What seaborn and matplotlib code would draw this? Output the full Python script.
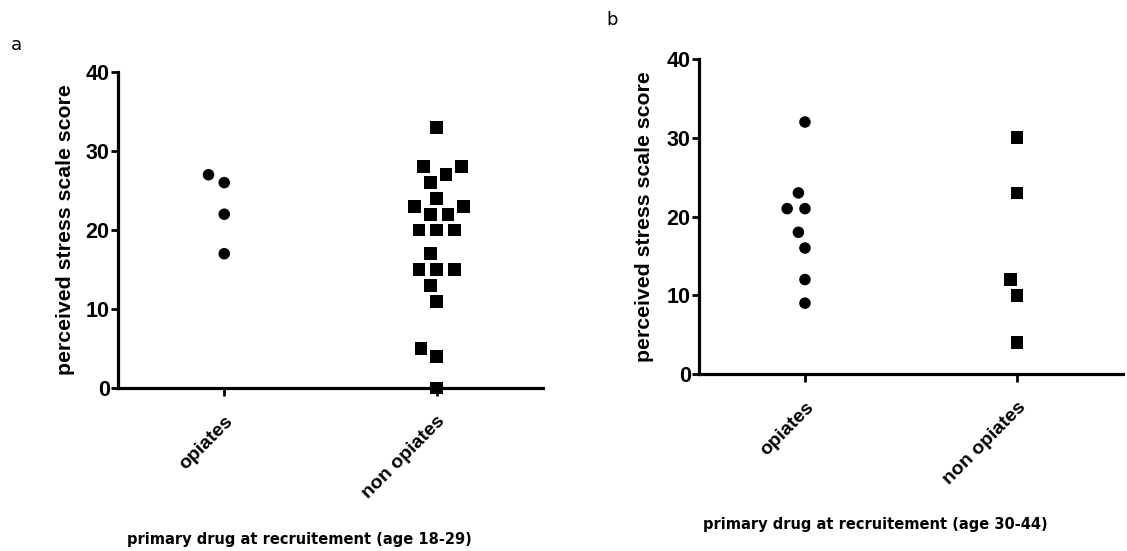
import matplotlib
matplotlib.use("Agg")
import matplotlib.pyplot as plt
import seaborn as sns
import pandas as pd

# Perceived stress scale scores by primary drug at recruitment
categories = ["opiates", "non opiates"]

young_opiates = [26, 27, 22, 17]
young_non_opiates = [33, 28, 28, 27, 26, 24, 23, 23, 22, 22, 20, 20, 20,
                     17, 15, 15, 15, 13, 11, 5, 4, 0]

older_opiates = [32, 23, 21, 21, 18, 16, 12, 9]
older_non_opiates = [30, 23, 12, 10, 4]

y_ticks = [0, 10, 20, 30, 40]
y_label = "perceived stress scale score"
x_labels = ["primary drug at recruitement (age 18-29)",
            "primary drug at recruitement (age 30-44)"]
panel_letters = ["a", "b"]


def long_frame(opi, non):
    return pd.DataFrame({
        "group": [categories[0]] * len(opi) + [categories[1]] * len(non),
        "score": list(opi) + list(non),
    })


sns.set_theme(style="white")
plt.rcParams["font.family"] = ["Liberation Sans", "DejaVu Sans"]
plt.rcParams["text.color"] = "black"
plt.rcParams["axes.labelcolor"] = "black"
plt.rcParams["xtick.color"] = "black"
plt.rcParams["ytick.color"] = "black"

fig = plt.figure(figsize=(11.27, 5.51), dpi=100)
ax_a = fig.add_axes([0.1047, 0.2958, 0.3771, 0.5735])
ax_b = fig.add_axes([0.6202, 0.3212, 0.3762, 0.5717])

panels = [
    (ax_a, long_frame(young_opiates, young_non_opiates), (0.426, -0.456), -0.101),
    (ax_b, long_frame(older_opiates, older_non_opiates), (0.415, -0.454), -0.106),
]

# marker shape, drawn size and an invisible edge that widens the swarm spacing
marker_styles = {"opiates": ("o", 8.3, 3.9), "non opiates": ("s", 9.2, 3.0)}

for i, (ax, df, xl_pos, yl_x) in enumerate(panels):
    for cat in categories:
        marker, size, gap = marker_styles[cat]
        sub = df[df["group"] == cat]
        sns.swarmplot(data=sub, x="group", y="score", order=categories,
                      marker=marker, color="black", size=size,
                      linewidth=gap, edgecolor="none",
                      ax=ax, clip_on=False, zorder=3)
    # drop any empty point collections left by categories without data
    for coll in list(ax.collections):
        if len(coll.get_offsets()) == 0:
            coll.remove()
    ax.set_xlim(-0.5, 1.5)
    ax.set_ylim(0, 40)
    ax.set_yticks(y_ticks)
    ax.set_yticklabels([str(t) for t in y_ticks], fontsize=15.5, fontweight="bold")
    ax.set_xticks([0, 1])
    ax.set_xticklabels(categories, rotation=45, ha="right",
                       rotation_mode="anchor", fontsize=14, fontweight="bold")
    for s in ["top", "right"]:
        ax.spines[s].set_visible(False)
    for s in ["left", "bottom"]:
        ax.spines[s].set_linewidth(2.3)
        ax.spines[s].set_color("black")
    ax.tick_params(axis="y", direction="out", length=5, width=2, pad=1,
                   left=True)
    ax.tick_params(axis="x", direction="out", length=6, width=2, pad=12,
                   bottom=True)
    ax.set_ylabel(y_label, fontsize=15.3, fontweight="bold")
    ax.yaxis.set_label_coords(yl_x, 0.5)
    ax.set_xlabel(x_labels[i], fontsize=10.5, fontweight="bold",
                  family="DejaVu Sans")
    ax.xaxis.set_label_coords(*xl_pos)
    ax.grid(False)

fig.text(16 / 1127, 1 - 45 / 551, panel_letters[0], fontsize=13,
         family="DejaVu Sans", ha="center", va="center")
fig.text(612 / 1127, 1 - 20 / 551, panel_letters[1], fontsize=13,
         family="DejaVu Sans", ha="center", va="center")

fig.savefig("out.png", dpi=100)
